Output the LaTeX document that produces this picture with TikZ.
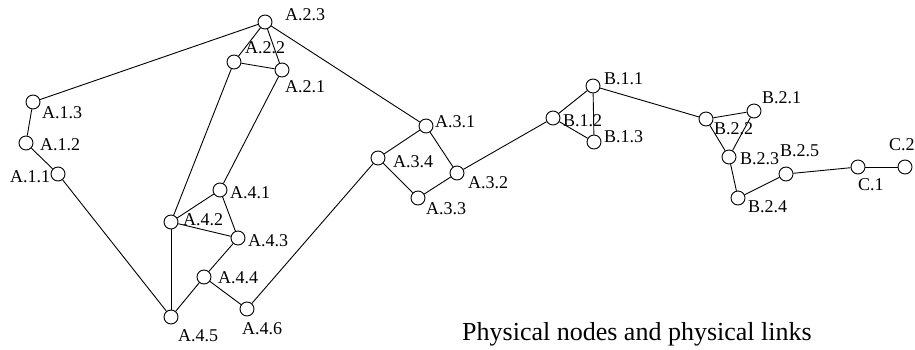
\documentclass[tikz,border=0pt]{standalone}
\usepackage{fontspec}
\setmainfont{Liberation Serif}
\tikzset{
  pn/.style={circle,draw,line width=0.9pt,minimum size=14pt,inner sep=0pt},
  lab/.style={anchor=west,inner sep=0pt,font=\fontsize{18}{20}\selectfont},
  link/.style={line width=0.9pt},
}
\begin{document}
\begin{tikzpicture}[x=1pt,y=-1pt]
\useasboundingbox (0,0) rectangle (915,350);
% nodes
\node[pn] (a11) at (58,174) {};
\node[pn] (a12) at (26,143) {};
\node[pn] (a13) at (33,102) {};
\node[pn] (a21) at (282,70) {};
\node[pn] (a22) at (234,62) {};
\node[pn] (a23) at (265,22) {};
\node[pn] (a31) at (426,126) {};
\node[pn] (a32) at (457,173) {};
\node[pn] (a33) at (418,198) {};
\node[pn] (a34) at (378,158) {};
\node[pn] (a41) at (220,190) {};
\node[pn] (a42) at (171,222) {};
\node[pn] (a43) at (238,238) {};
\node[pn] (a44) at (204,277) {};
\node[pn] (a45) at (171,317) {};
\node[pn] (a46) at (247,309) {};
\node[pn] (b11) at (593,86) {};
\node[pn] (b12) at (553,118) {};
\node[pn] (b13) at (594,142) {};
\node[pn] (b21) at (754,111) {};
\node[pn] (b22) at (706,119) {};
\node[pn] (b23) at (729,157) {};
\node[pn] (b24) at (738,198) {};
\node[pn] (b25) at (786,174) {};
\node[pn] (c1) at (858,167) {};
\node[pn] (c2) at (905,167) {};
% labels
\node[lab] (l11) at (10,177) {A.1.1};
\node[lab] (l12) at (40,145) {A.1.2};
\node[lab] (l13) at (42,113) {A.1.3};
\node[lab] (l21) at (285,87) {A.2.1};
\node[lab] (l22) at (245,48) {A.2.2};
\node[lab] (l23) at (285,15) {A.2.3};
\node[lab] (l31) at (435,122) {A.3.1};
\node[lab] (l32) at (468,183) {A.3.2};
\node[lab] (l33) at (426,209) {A.3.3};
\node[lab] (l34) at (393,162) {A.3.4};
\node[lab] (l41) at (230,193) {A.4.1};
\node[lab] (l42) at (183,220) {A.4.2};
\node[lab] (l43) at (248,241) {A.4.3};
\node[lab] (l44) at (218,278) {A.4.4};
\node[lab] (l45) at (178,336) {A.4.5};
\node[lab] (l46) at (242,329) {A.4.6};
\node[lab] (lb11) at (604,79) {B.1.1};
\node[lab] (lb12) at (563,121) {B.1.2};
\node[lab] (lb13) at (604,137) {B.1.3};
\node[lab] (lb21) at (762,98) {B.2.1};
\node[lab] (lb22) at (714,129) {B.2.2};
\node[lab] (lb23) at (740,159) {B.2.3};
\node[lab] (lb24) at (748,207) {B.2.4};
\node[lab] (lb25) at (780,151) {B.2.5};
\node[lab] (lc1) at (858,185) {C.1};
\node[lab] (lc2) at (889,145) {C.2};
\node[anchor=base west,inner sep=0pt,font=\fontsize{26}{30}\selectfont] (cap) at (462,340) {Physical nodes and physical links};
% links
\draw[link] (a13) -- (a23);
\draw[link] (a13) -- (a12);
\draw[link] (a12) -- (a11);
\draw[link] (a11) -- (a45);
\draw[link] (a23) -- (a22);
\draw[link] (a23) -- (a21);
\draw[link] (a22) -- (a21);
\draw[link] (a23) -- (a31);
\draw[link] (a22) -- (a42);
\draw[link] (a21) -- (a41);
\draw[link] (a41) -- (a42);
\draw[link] (a41) -- (a43);
\draw[link] (a42) -- (a43);
\draw[link] (a42) -- (a45);
\draw[link] (a43) -- (a44);
\draw[link] (a44) -- (a45);
\draw[link] (a44) -- (a46);
\draw[link] (a46) -- (a34);
\draw[link] (a34) -- (a31);
\draw[link] (a34) -- (a33);
\draw[link] (a31) -- (a32);
\draw[link] (a33) -- (a32);
\draw[link] (a32) -- (b12);
\draw[link] (b12) -- (b11);
\draw[link] (b12) -- (b13);
\draw[link] (b11) -- (b13);
\draw[link] (b11) -- (b22);
\draw[link] (b22) -- (b21);
\draw[link] (b22) -- (b23);
\draw[link] (b21) -- (b23);
\draw[link] (b23) -- (b24);
\draw[link] (b24) -- (b25);
\draw[link] (b25) -- (c1);
\draw[link] (c1) -- (c2);
\end{tikzpicture}
\end{document}
